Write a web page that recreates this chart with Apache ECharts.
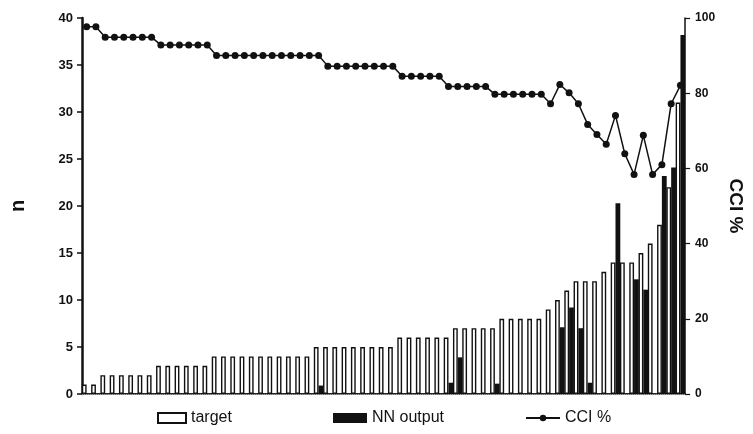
<!DOCTYPE html>
<html>
<head>
<meta charset="utf-8">
<script src="https://cdn.jsdelivr.net/npm/echarts@6/dist/echarts.min.js"></script>
<style>
html,body{margin:0;padding:0;background:#fff;}
#c{width:753px;height:434px;}
</style>
</head>
<body>
<div id="c"></div>
<script>
var categories = [];
for (var k = 1; k <= 65; k++) categories.push(String(k));

var target = [1,1,
  2,2,2,2,2,2,
  3,3,3,3,3,3,
  4,4,4,4,4,4,4,4,4,4,4,
  5,
  5,5,5,5,5,5,5,5,
  6,6,6,6,6,6,
  7,7,7,7,7,
  8,8,8,8,8,
  9,10,11,12,12,12,13,14,14,14,15,16,18,22,31];

var nnOutput = [0,0,
  0,0,0,0,0,0,
  0,0,0,0,0,0,
  0,0,0,0,0,0,0,0,0,0,0,
  0.9,
  0,0,0,0,0,0,0,0,
  0,0,0,0,0,1.2,
  3.9,0,0,0,1.1,
  0,0,0,0,0,
  0,7.1,9.2,7.0,1.2,0,0,20.3,0,12.2,11.1,0,23.2,24.1,38.2];

var cci = [97.7,97.7,
  94.9,94.9,94.9,94.9,94.9,94.9,
  92.8,92.8,92.8,92.8,92.8,92.8,
  90.0,90.0,90.0,90.0,90.0,90.0,90.0,90.0,90.0,90.0,90.0,90.0,
  87.2,87.2,87.2,87.2,87.2,87.2,87.2,87.2,
  84.5,84.5,84.5,84.5,84.5,
  81.8,81.8,81.8,81.8,81.8,
  79.7,79.7,79.7,79.7,79.7,79.7,
  77.2,82.3,80.1,77.2,71.7,69.0,66.4,74.1,63.9,58.4,68.8,58.4,61.0,77.2,82.1];

var leftTicks = [0,5,10,15,20,25,30,35,40];
var rightTicks = [0,20,40,60,80,100];

var chart = echarts.init(document.getElementById('c'), null, {renderer:'canvas'});
var FONT = '"Liberation Sans", Arial, sans-serif';
chart.setOption({
  animation: false,
  backgroundColor: '#fff',
  grid: {left: 82, right: 56, top: 18, bottom: 40},
  legend: [
    {data: [{name: 'target', icon: 'rect'}], left: 152, top: 405, itemWidth: 28, itemHeight: 10,
     textStyle: {fontFamily: FONT, fontSize: 16, color: '#111'}, itemGap: 4},
    {data: [{name: 'NN output', icon: 'rect'}], left: 328, top: 405, itemWidth: 34, itemHeight: 10,
     textStyle: {fontFamily: FONT, fontSize: 16, color: '#111'}},
    {data: ['CCI %'], left: 520, top: 405, itemWidth: 34, itemHeight: 8,
     textStyle: {fontFamily: FONT, fontSize: 16, color: '#111'}}
  ],
  xAxis: [
    {type: 'category', data: categories, position: 'bottom',
     axisLine: {show: true, lineStyle: {color: '#222', width: 2}},
     axisTick: {show: false}, axisLabel: {show: false}, splitLine: {show: false}},
    {type: 'category', data: categories, position: 'top',
     axisLine: {show: true, lineStyle: {color: '#999', width: 1, type: 'dotted'}},
     axisTick: {show: false}, axisLabel: {show: false}, splitLine: {show: false}}
  ],
  yAxis: [
    {type: 'value', min: leftTicks[0], max: leftTicks[leftTicks.length-1], interval: 5, position: 'left',
     name: 'n', nameLocation: 'middle', nameGap: 54, nameRotate: 90,
     nameTextStyle: {fontFamily: FONT, fontSize: 20, fontWeight: 'bold', color: '#111'},
     axisLine: {show: true, lineStyle: {color: '#111', width: 2.5}},
     axisTick: {show: true, length: 5, lineStyle: {color: '#111', width: 1.5}},
     axisLabel: {fontFamily: FONT, fontSize: 13, fontWeight: 'bold', color: '#111', margin: 9},
     splitLine: {show: false}},
    {type: 'value', min: rightTicks[0], max: rightTicks[rightTicks.length-1], interval: 20, position: 'right',
     name: 'CCI %', nameLocation: 'middle', nameGap: 34, nameRotate: -90,
     nameTextStyle: {fontFamily: FONT, fontSize: 19, fontWeight: 'bold', color: '#111'},
     axisLine: {show: true, lineStyle: {color: '#111', width: 1.5}},
     axisTick: {show: true, length: 5, lineStyle: {color: '#111', width: 1.2}},
     axisLabel: {fontFamily: FONT, fontSize: 12, fontWeight: 'bold', color: '#111', margin: 10},
     splitLine: {show: false}}
  ],
  series: [
    {name: 'target', type: 'bar', data: target, barWidth: 4.8, barGap: '0%',
     itemStyle: {color: '#fff', borderColor: '#111', borderWidth: 1.4}},
    {name: 'NN output', type: 'bar', data: nnOutput, barWidth: 4.8, barGap: '0%',
     itemStyle: {color: '#111'}},
    {name: 'CCI %', type: 'line', yAxisIndex: 1, data: cci,
     symbol: 'circle', symbolSize: 7, showSymbol: true, showAllSymbol: true,
     lineStyle: {color: '#111', width: 1.5},
     itemStyle: {color: '#111'}}
  ]
});
</script>
</body>
</html>
